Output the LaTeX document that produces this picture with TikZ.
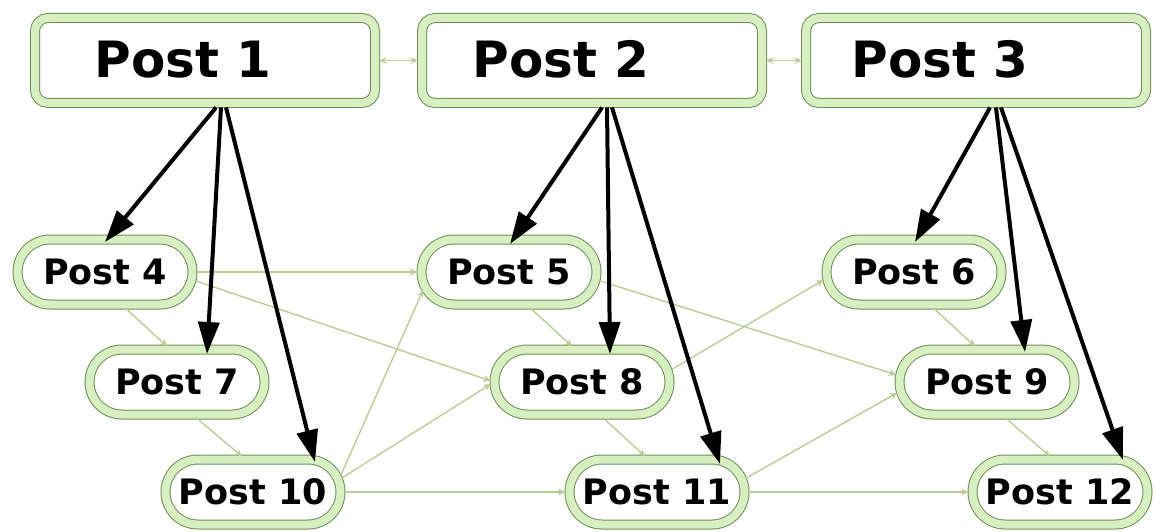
\documentclass[tikz,border=0pt]{standalone}
\usepackage{fontspec}
\setmainfont{DejaVu Sans}
\usetikzlibrary{shapes.misc,arrows.meta,calc}
\definecolor{bandc}{RGB}{216,239,194}
\definecolor{bordc}{RGB}{112,142,88}
\definecolor{linkc}{RGB}{188,204,150}
\tikzset{
  bigpost/.style={rectangle, rounded corners=13pt, draw=bordc, line width=1pt,
    double=bandc, double distance=8pt, fill=white, minimum width=340pt,
    minimum height=85pt, inner sep=0pt, font=\bfseries\fontsize{50pt}{55pt}\selectfont},
  smallpost/.style={rounded rectangle, draw=bordc, line width=1pt,
    double=bandc, double distance=8pt, fill=white, minimum width=175pt,
    minimum height=65pt, inner sep=0pt, font=\bfseries\fontsize{35pt}{40pt}\selectfont},
  link/.style={draw=linkc, line width=1.4pt, shorten <=4pt, shorten >=4pt,
    -{Stealth[length=7pt,width=7pt]}},
  dlink/.style={link, {Stealth[length=7pt,width=7pt]}-{Stealth[length=7pt,width=7pt]}},
  bold/.style={draw=black, line width=4pt, -{Triangle[length=32pt,width=21pt]}}
}
\begin{document}
\begin{tikzpicture}
\useasboundingbox (0pt,0pt) rectangle (1156pt,-532pt);
\fill[white] (0pt,0pt) rectangle (1156pt,-532pt);

\node[bigpost] (p1) at (205pt,-60.5pt) {\raisebox{3pt}{Post 1}\hspace*{44pt}};
\node[bigpost] (p2) at (592pt,-60.5pt) {\raisebox{3pt}{Post 2}\hspace*{62pt}};
\node[bigpost] (p3) at (976pt,-60.5pt) {\raisebox{3pt}{Post 3}\hspace*{72pt}};

\node[smallpost] (p4) at (105pt,-272pt) {Post 4};
\node[smallpost] (p7) at (177pt,-382pt) {Post 7};
\node[smallpost] (p10) at (253pt,-492pt) {Post 10};
\node[smallpost] (p5) at (509pt,-272pt) {Post 5};
\node[smallpost] (p8) at (582pt,-382pt) {Post 8};
\node[smallpost] (p11) at (657pt,-492pt) {Post 11};
\node[smallpost] (p6) at (914pt,-272pt) {Post 6};
\node[smallpost] (p9) at (987pt,-382pt) {Post 9};
\node[smallpost] (p12) at (1060pt,-492pt) {Post 12};

% thin links
\draw[dlink] (p1.east) -- (p2.west);
\draw[dlink] (p2.east) -- (p3.west);
\draw[link] ($(p4.south)+(17pt,0pt)$) -- ($(p7.north)+(-7pt,0pt)$);
\draw[link] ($(p7.south)+(16pt,0pt)$) -- ($(p10.north)+(-8pt,0pt)$);
\draw[link] ($(p5.south)+(18pt,0pt)$) -- ($(p8.north)+(-7pt,0pt)$);
\draw[link] ($(p8.south)+(18pt,0pt)$) -- ($(p11.north)+(-9pt,0pt)$);
\draw[link] ($(p6.south)+(16pt,0pt)$) -- ($(p9.north)+(-9pt,0pt)$);
\draw[link] ($(p9.south)+(15pt,0pt)$) -- ($(p12.north)+(-7pt,0pt)$);
\draw[link] (p4.east) -- (p5.west);
\draw[link] (p4.-5) -- (p8.west);
\draw[link] (p10.8) -- (p5.190);
\draw[link] (p10.8) -- (p8.west);
\draw[link] (p10.east) -- (p11.west);
\draw[link] (p5.-5) -- (p9.176);
\draw[link] (p8.7) -- (p6.184);
\draw[link] (p11.8) -- (p9.186);
\draw[link] (p11.east) -- (p12.west);

% bold arrows
\coordinate (s1a) at ($(p1.south)+(11pt,-4pt)$);
\coordinate (s1b) at ($(p1.south)+(16pt,-4pt)$);
\coordinate (s1c) at ($(p1.south)+(21pt,-4pt)$);
\coordinate (s2a) at ($(p2.south)+(10pt,-4pt)$);
\coordinate (s2b) at ($(p2.south)+(15pt,-4pt)$);
\coordinate (s2c) at ($(p2.south)+(20pt,-4pt)$);
\coordinate (s3a) at ($(p3.south)+(14pt,-4pt)$);
\coordinate (s3b) at ($(p3.south)+(20pt,-4pt)$);
\coordinate (s3c) at ($(p3.south)+(25pt,-4pt)$);
\draw[bold] (s1a) -- ($(p4.north)+(0pt,-3pt)$);
\draw[bold] (s1b) -- ($(p7.north)+(30pt,-5pt)$);
\draw[bold] (s1c) -- ($(p10.north)+(62pt,-3pt)$);
\draw[bold] (s2a) -- ($(p5.north)+(1pt,-5pt)$);
\draw[bold] (s2b) -- ($(p8.north)+(28pt,-5pt)$);
\draw[bold] (s2c) -- ($(p11.north)+(63pt,-5pt)$);
\draw[bold] (s3a) -- ($(p6.north)+(1pt,-3pt)$);
\draw[bold] (s3b) -- ($(p9.north)+(38pt,-3pt)$);
\draw[bold] (s3c) -- ($(p12.north)+(63pt,-1pt)$);
\end{tikzpicture}
\end{document}
